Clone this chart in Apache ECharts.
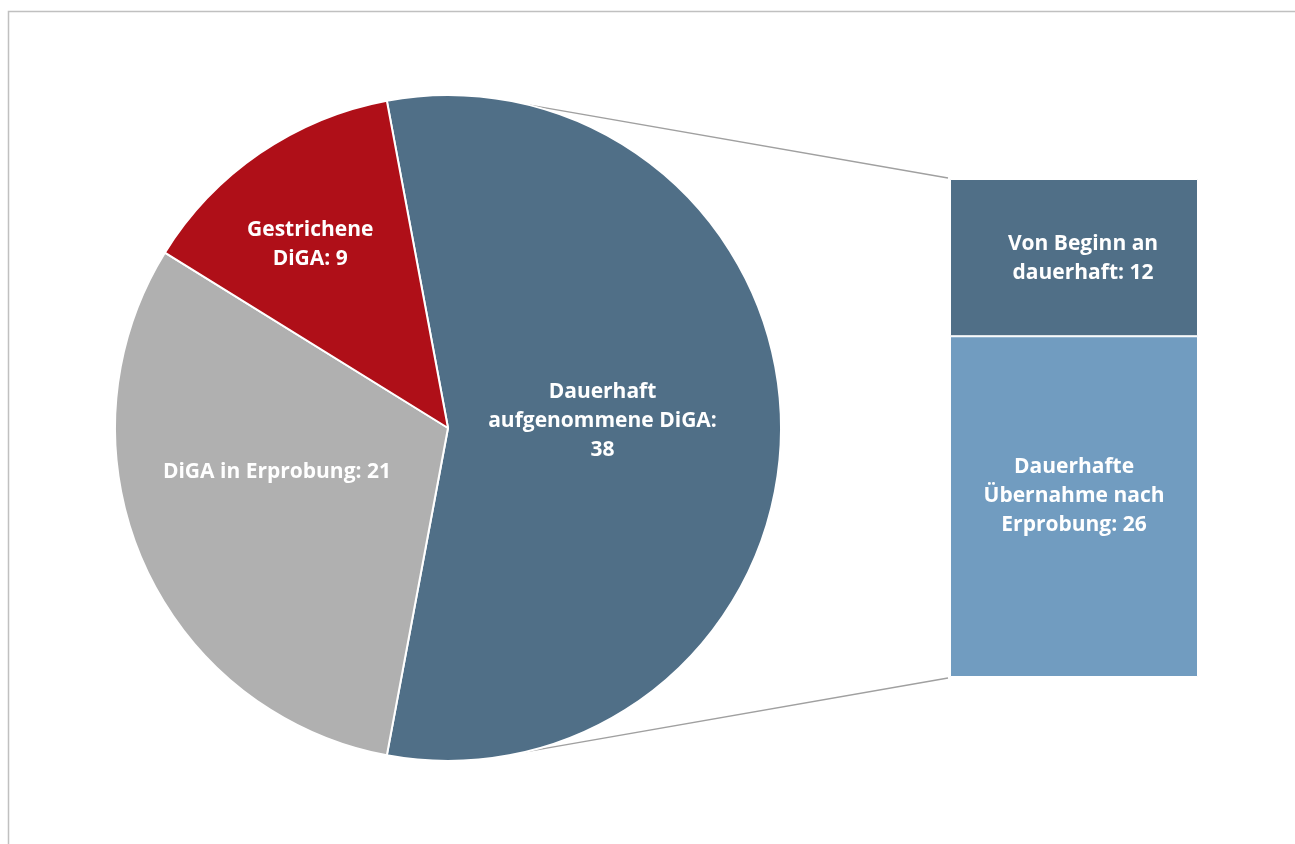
<!DOCTYPE html>
<html>
<head>
<meta charset="utf-8">
<script src="https://cdn.jsdelivr.net/npm/echarts@6/dist/echarts.min.js"></script>
<style>
html,body{margin:0;padding:0;background:#fff;}
#chart{width:1295px;height:844px;}
</style>
</head>
<body>
<div id="chart"></div>
<script>
// ---- data ----
const pieNames = ['Dauerhaft aufgenommene DiGA', 'DiGA in Erprobung', 'Gestrichene DiGA'];
const pieValues = [38, 21, 9];
const pieLabelTemplates = ['Dauerhaft\naufgenommene DiGA:\n{c}', 'DiGA in Erprobung: {c}', 'Gestrichene\nDiGA: {c}'];
const barCategory = ['Dauerhaft aufgenommene DiGA'];
const barNames = ['Dauerhafte Übernahme nach Erprobung', 'Von Beginn an dauerhaft'];
const barValues = [[26], [12]];
const barLabelTemplates = ['Dauerhafte\nÜbernahme nach\nErprobung: {c}', 'Von Beginn an\ndauerhaft: {c}'];

// ---- style / layout ----
const pieColors = ['#506F87', '#B0B0B0', '#AF0F18'];
const barColors = ['#719CC0', '#506F87'];
const PIE_CX = 448, PIE_CY = 428, PIE_R = 333;
const GRID = {left: 950, top: 179, width: 248, height: 498};
const labelShift = [[-15, -7], [-16, -24], [-42, -44]];
const FONT = '"Open Sans", "Noto Sans", sans-serif';
const FS = 21, LH = 29;

const chart = echarts.init(document.getElementById('chart'), null, {renderer: 'canvas'});
const total = pieValues.reduce((a, b) => a + b, 0);
const startAngle = 360 * pieValues[0] / total / 2;

// connector lines (bar-of-pie), computed from the pie and grid geometry
function piePoint(degFromTop) {
  const a = degFromTop * Math.PI / 180;
  return [PIE_CX + PIE_R * Math.sin(a), PIE_CY - PIE_R * Math.cos(a)];
}
const p1 = piePoint(14.2), p2 = piePoint(180 - 13.4);

const option = {
  animation: false,
  backgroundColor: '#fff',
  grid: {left: GRID.left, top: GRID.top, width: GRID.width, height: GRID.height},
  xAxis: {type: 'category', data: barCategory, show: false, boundaryGap: true},
  yAxis: {type: 'value', min: 0, max: barValues[0][0] + barValues[1][0], show: false},
  graphic: [
    {type: 'rect', shape: {x: 8.5, y: 11.5, width: 1400, height: 900}, style: {fill: null, stroke: '#C0C0C0', lineWidth: 1.5}, z: -10, silent: true},
    {type: 'line', shape: {x1: p1[0], y1: p1[1], x2: GRID.left - 2, y2: GRID.top - 1}, style: {stroke: '#A0A0A0', lineWidth: 1.3}, z: 1, silent: true},
    {type: 'line', shape: {x1: p2[0], y1: p2[1], x2: GRID.left - 2, y2: GRID.top + GRID.height + 1}, style: {stroke: '#A0A0A0', lineWidth: 1.3}, z: 1, silent: true}
  ],
  series: [
    {
      type: 'pie',
      center: [PIE_CX, PIE_CY],
      radius: PIE_R,
      startAngle: startAngle,
      clockwise: true,
      z: 3,
      data: pieNames.map((n, i) => ({name: n, value: pieValues[i], itemStyle: {color: pieColors[i]}})),
      itemStyle: {borderColor: '#fff', borderWidth: 2},
      label: {
        position: 'inside',
        color: '#fff',
        fontFamily: FONT,
        fontWeight: 'bold',
        fontSize: FS,
        lineHeight: LH,
        align: 'center',
        formatter: p => pieLabelTemplates[p.dataIndex].replace('{c}', p.value)
      },
      labelLine: {show: false},
      labelLayout: p => ({dx: labelShift[p.dataIndex][0], dy: labelShift[p.dataIndex][1]}),
      emphasis: {disabled: true}
    },
    ...barNames.map((n, i) => ({
      type: 'bar',
      name: n,
      stack: 'total',
      data: barValues[i],
      barWidth: '100%',
      itemStyle: {color: barColors[i], borderColor: '#fff', borderWidth: 1},
      label: {
        show: true,
        position: 'inside',
        offset: i === 0 ? [0, -11] : [9, 1],
        color: '#fff',
        fontFamily: FONT,
        fontWeight: 'bold',
        fontSize: FS,
        lineHeight: LH,
        align: 'center',
        formatter: p => barLabelTemplates[i].replace('{c}', p.value)
      },
      emphasis: {disabled: true}
    }))
  ]
};
chart.setOption(option);
</script>
</body>
</html>
